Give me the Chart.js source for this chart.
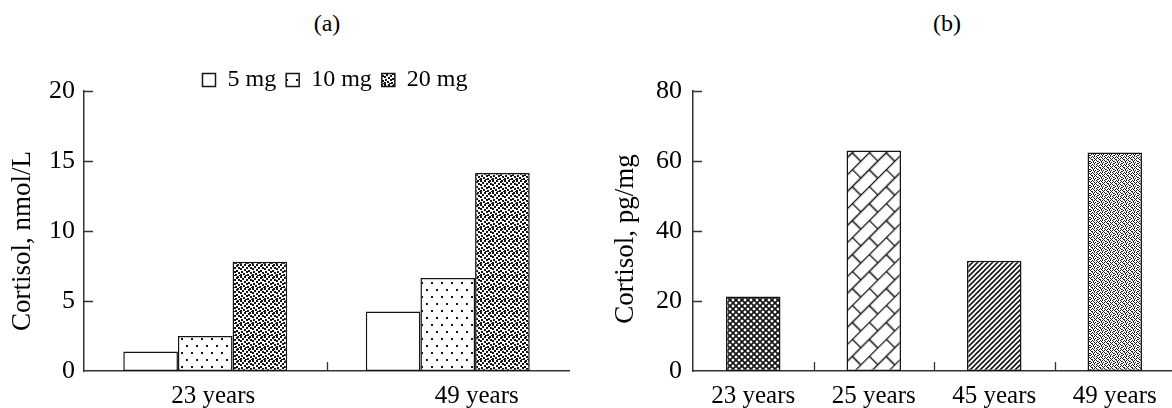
<!DOCTYPE html>
<html><head><meta charset="utf-8">
<script src="https://cdn.jsdelivr.net/npm/chart.js@4.4.1/dist/chart.umd.min.js"></script>
<style>
html,body{margin:0;padding:0;background:#fff;width:1172px;height:408px;overflow:hidden;position:relative}
.wrap{position:absolute;top:0}
.ptitle{position:absolute;top:10px;font:24px 'Liberation Serif','Times New Roman',serif;color:#000;transform:translateX(-50%);white-space:nowrap}
canvas{display:block}
</style></head><body>
<div class="ptitle" style="left:327px">(a)</div>
<div class="ptitle" style="left:947px">(b)</div>
<div class="wrap" style="left:0;width:670px;height:408px"><canvas id="ca" width="670" height="408"></canvas></div>
<div class="wrap" style="left:580px;width:600px;height:408px"><canvas id="cb" width="600" height="408"></canvas></div>
<script>
// ---- data ----
const ageGroupsA = ['23 years', '49 years'];
const doseLabels = ['5 mg', '10 mg', '20 mg'];
const dose5 = [1.4, 4.25];
const dose10 = [2.5, 6.65];
const dose20 = [7.8, 14.15];
const ticksA = [0, 5, 10, 15, 20];
const titleA = 'Cortisol, nmol/L';

const ageGroupsB = ['23 years', '25 years', '45 years', '49 years'];
const cortisolB = [21.3, 63.0, 31.5, 62.4];
const ticksB = [0, 20, 40, 60, 80];
const titleB = 'Cortisol, pg/mg';

// ---- styling ----
Chart.defaults.font.family = "'Liberation Serif','Times New Roman',serif";
Chart.defaults.color = '#000';
const AXIS = '#333';
const INK = '#151515';
const labelShiftA = [8, 29];

function tile(w, h, draw) {
  const c = document.createElement('canvas'); c.width = w; c.height = h;
  const g = c.getContext('2d'); g.fillStyle = '#fff'; g.fillRect(0, 0, w, h);
  g.fillStyle = INK; g.strokeStyle = INK; draw(g); return c;
}
function mkPat(ctx, c, m) { const p = ctx.createPattern(c, 'repeat'); if (m) p.setTransform(m); return p; }

const ctxA = document.getElementById('ca').getContext('2d');
const ctxB = document.getElementById('cb').getContext('2d');

const sparseDots = tile(10, 14, g => { g.fillRect(1, 2, 2, 2); g.fillRect(6, 9, 2, 2); });
const denseDots = tile(12, 12, g => {
  [[0,0],[4,0],[8,1],[2,2],[6,3],[10,3],[0,4],[4,5],[8,6],[1,7],[6,7],[10,8],[3,9],[7,10],[0,10],[11,11],[5,11],[9,0]]
    .forEach(([x, y]) => g.fillRect(x, y, 2, 2));
});
const cross = tile(6, 6, g => {
  g.lineWidth = 1.7; g.beginPath(); g.moveTo(-1, -1); g.lineTo(7, 7); g.moveTo(-1, 7); g.lineTo(7, -1); g.stroke();
});
const brick = tile(24, 24, g => {
  g.lineWidth = 1.6; g.beginPath();
  g.moveTo(0, 0.5); g.lineTo(24, 0.5); g.moveTo(0, 12.5); g.lineTo(24, 12.5);
  g.moveTo(0.5, 0); g.lineTo(0.5, 12.5); g.moveTo(12.5, 12.5); g.lineTo(12.5, 24);
  g.stroke();
});
const hatch = tile(5, 5, g => {
  g.lineWidth = 1.6; g.beginPath(); g.moveTo(0, 5); g.lineTo(5, 0); g.moveTo(-1, 1); g.lineTo(1, -1); g.moveTo(4, 6); g.lineTo(6, 4); g.stroke();
});
const fine = tile(8, 8, g => {
  g.fillStyle = '#222';
  [[0,0],[1,1],[2,0],[4,0],[5,1],[3,2],[6,3],[7,2],[0,4],[1,5],[2,4],[4,4],[5,5],[2,6],[3,7],[6,6],[7,7],[2,3],[6,1],[0,7],[4,6],[5,3],[7,5],[1,2]]
    .forEach(([x, y]) => g.fillRect(x, y, 1, 1));
});

const patA = ['#ffffff', mkPat(ctxA, sparseDots), mkPat(ctxA, denseDots)];
const patB = [mkPat(ctxB, cross), mkPat(ctxB, brick, new DOMMatrix().rotateSelf(-45)), mkPat(ctxB, hatch), mkPat(ctxB, fine)];

// ---- plugins ----
const innerTicks = {
  id: 'innerTicks',
  afterDatasetsDraw(chart) {
    const { ctx, chartArea } = chart; const x = chart.scales.x, y = chart.scales.y;
    ctx.save(); ctx.strokeStyle = AXIS; ctx.lineWidth = 1.3; ctx.beginPath();
    y.ticks.forEach(t => {
      if (t.value === 0) return;
      const py = Math.round(y.getPixelForValue(t.value)) + 0.5;
      ctx.moveTo(chartArea.left, py); ctx.lineTo(chartArea.left + 9, py);
    });
    for (let i = 0; i < x.ticks.length - 1; i++) {
      const px = Math.round((x.getPixelForValue(i) + x.getPixelForValue(i + 1)) / 2) + 0.5;
      ctx.moveTo(px, chartArea.bottom); ctx.lineTo(px, chartArea.bottom - 9);
    }
    ctx.stroke(); ctx.restore();
  }
};
const legendSize = {
  id: 'legendSize',
  afterInit(chart) {
    const lg = chart.legend; if (!lg) return;
    const f = lg.fit; lg.fit = function () { f.call(this); this.height = 33; };
  }
};
// per-category label nudge (labels of panel (a) sit slightly right of their groups)
function shiftLabels(shifts) {
  return function (scale) {
    if (scale._shiftPatched) return;
    const base = Object.getPrototypeOf(scale).getPixelForTick;
    scale.getPixelForTick = function (i) { return base.call(this, i) + (shifts[i] || 0); };
    scale._shiftPatched = true;
  };
}
// axis titles sit a little below the axis midpoint in the reference
function shiftTitle(dy) {
  return function (scale) {
    if (scale._titlePatched) return;
    const base = Object.getPrototypeOf(scale).drawTitle;
    scale.drawTitle = function () {
      this.top += dy; this.bottom += dy;
      try { base.call(this); } finally { this.top -= dy; this.bottom -= dy; }
    };
    scale._titlePatched = true;
  };
}

const barStyle = { borderColor: INK, borderWidth: 1.5, borderSkipped: false };

new Chart(ctxA, {
  type: 'bar',
  data: {
    labels: ageGroupsA,
    datasets: [
      Object.assign({ label: doseLabels[0], data: dose5, backgroundColor: patA[0] }, barStyle),
      Object.assign({ label: doseLabels[1], data: dose10, backgroundColor: patA[1] }, barStyle),
      Object.assign({ label: doseLabels[2], data: dose20, backgroundColor: patA[2] }, barStyle)
    ]
  },
  options: {
    responsive: false, animation: false,
    layout: { padding: { top: 58, left: 0, right: 0, bottom: 0 } },
    datasets: { bar: { categoryPercentage: 0.676, barPercentage: 1 } },
    plugins: {
      legend: { position: 'top', labels: { boxWidth: 13, boxHeight: 13, padding: 10, color: '#000', font: { size: 24 } } },
      tooltip: { enabled: false }
    },
    scales: {
      x: {
        grid: { display: false, drawTicks: false },
        border: { display: true, color: AXIS, width: 1.5 },
        ticks: { color: '#000', font: { size: 25 }, padding: 10 },
        afterFit(s) { s.height = 37; },
        beforeUpdate: shiftLabels(labelShiftA)
      },
      y: {
        min: 0, max: 20,
        afterBuildTicks(s) { s.ticks = ticksA.map(v => ({ value: v })); },
        grid: { display: false, drawTicks: false },
        border: { display: true, color: AXIS, width: 1.5 },
        ticks: { color: '#000', font: { size: 26 }, padding: 9 },
        title: { display: true, text: titleA, color: '#000', font: { size: 27 }, padding: { top: 7, bottom: 0 } },
        afterFit(s) { s.width = 84; },
        beforeUpdate: shiftTitle(10)
      },
      y2: {
        position: 'right', display: true,
        grid: { display: false, drawTicks: false }, border: { display: false }, ticks: { display: false },
        afterFit(s) { s.width = 101; }
      }
    }
  },
  plugins: [innerTicks, legendSize]
});

new Chart(ctxB, {
  type: 'bar',
  data: {
    labels: ageGroupsB,
    datasets: [Object.assign({ label: titleB, data: cortisolB, backgroundColor: patB }, barStyle)]
  },
  options: {
    responsive: false, animation: false,
    layout: { padding: { top: 91, left: 0, right: 5, bottom: 0 } },
    datasets: { bar: { categoryPercentage: 1, barPercentage: 0.452 } },
    plugins: { legend: { display: false }, tooltip: { enabled: false } },
    scales: {
      x: {
        grid: { display: false, drawTicks: false },
        border: { display: true, color: AXIS, width: 1.5 },
        ticks: { color: '#000', font: { size: 25 }, padding: 10 },
        afterFit(s) { s.height = 37; }
      },
      y: {
        min: 0, max: 80,
        afterBuildTicks(s) { s.ticks = ticksB.map(v => ({ value: v })); },
        grid: { display: false, drawTicks: false },
        border: { display: true, color: AXIS, width: 1.5 },
        ticks: { color: '#000', font: { size: 26 }, padding: 11 },
        title: { display: true, text: titleB, color: '#000', font: { size: 27 }, padding: { top: 30, bottom: 0 } },
        afterFit(s) { s.width = 113; },
        beforeUpdate: shiftTitle(8)
      }
    }
  },
  plugins: [innerTicks]
});
</script>
</body></html>
